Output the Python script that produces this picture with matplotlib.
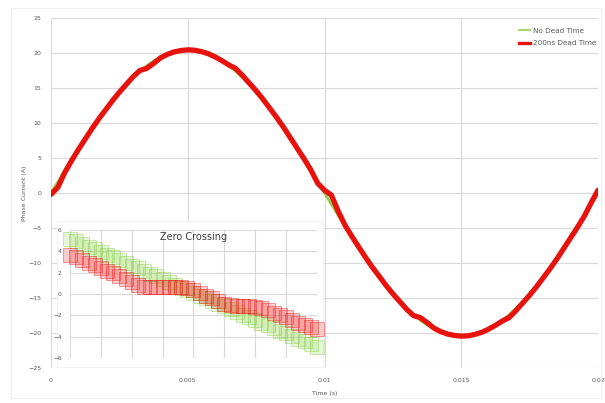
import matplotlib
matplotlib.use("Agg")
import matplotlib.pyplot as plt
from matplotlib.patches import Rectangle
from matplotlib.lines import Line2D

# ---------------- data ----------------
time_s = [0.00000, 0.00025, 0.00050, 0.00075, 0.00100, 0.00125, 0.00150, 0.00175, 0.00200, 0.00225,
          0.00250, 0.00275, 0.00300, 0.00325, 0.00350, 0.00375, 0.00400, 0.00425, 0.00450, 0.00475,
          0.00500, 0.00525, 0.00550, 0.00575, 0.00600, 0.00625, 0.00650, 0.00675, 0.00700, 0.00725,
          0.00750, 0.00775, 0.00800, 0.00825, 0.00850, 0.00875, 0.00900, 0.00925, 0.00950, 0.00975,
          0.01000, 0.01025, 0.01050, 0.01075, 0.01100, 0.01125, 0.01150, 0.01175, 0.01200, 0.01225,
          0.01250, 0.01275, 0.01300, 0.01325, 0.01350, 0.01375, 0.01400, 0.01425, 0.01450, 0.01475,
          0.01500, 0.01525, 0.01550, 0.01575, 0.01600, 0.01625, 0.01650, 0.01675, 0.01700, 0.01725,
          0.01750, 0.01775, 0.01800, 0.01825, 0.01850, 0.01875, 0.01900, 0.01925, 0.01950, 0.01975,
          0.02000]
current_nodt = [0.0, 1.60, 3.19, 4.76, 6.30, 7.81, 9.26, 10.66, 11.99, 13.25,
                14.42, 15.51, 16.50, 17.39, 18.18, 18.85, 19.40, 19.84, 20.15, 20.34,
                20.40, 20.34, 20.15, 19.84, 19.40, 18.85, 18.18, 17.39, 16.50, 15.51,
                14.42, 13.25, 11.99, 10.66, 9.26, 7.81, 6.30, 4.76, 3.19, 1.60,
                0.0, -1.60, -3.19, -4.76, -6.30, -7.81, -9.26, -10.66, -11.99, -13.25,
                -14.42, -15.51, -16.50, -17.39, -18.18, -18.85, -19.40, -19.84, -20.15, -20.34,
                -20.40, -20.34, -20.15, -19.84, -19.40, -18.85, -18.18, -17.39, -16.50, -15.51,
                -14.42, -13.25, -11.99, -10.66, -9.26, -7.81, -6.30, -4.76, -3.19, -1.60,
                0.0]
current_dt = [-0.2, 0.8, 2.9, 4.6, 6.2, 7.7, 9.2, 10.6, 11.9, 13.2,
              14.4, 15.5, 16.6, 17.5, 17.8, 18.5, 19.3, 19.8, 20.15, 20.35,
              20.45, 20.4, 20.2, 19.9, 19.45, 18.9, 18.3, 17.8, 16.8, 15.7,
              14.6, 13.4, 12.1, 10.8, 9.4, 7.9, 6.4, 4.9, 3.3, 1.4,
              0.4, -0.3, -2.6, -4.6, -6.2, -7.7, -9.2, -10.6, -11.9, -13.2,
              -14.4, -15.5, -16.6, -17.5, -17.8, -18.5, -19.3, -19.8, -20.15, -20.35,
              -20.45, -20.4, -20.2, -19.9, -19.45, -18.9, -18.3, -17.8, -16.8, -15.7,
              -14.6, -13.4, -12.1, -10.8, -9.4, -7.9, -6.4, -4.9, -3.3, -1.4,
              0.4]

zoom_x = [0.0, 0.2, 0.4, 0.6, 0.8, 1.0, 1.2, 1.4, 1.6, 1.8, 2.0, 2.2, 2.4, 2.6, 2.8, 3.0,
          3.2, 3.4, 3.6, 3.8, 4.0, 4.2, 4.4, 4.6, 4.8, 5.0, 5.2, 5.4, 5.6, 5.8, 6.0, 6.2,
          6.4, 6.6, 6.8, 7.0, 7.2, 7.4, 7.6, 7.8, 8.0]
zoom_nodt = [5.2, 4.95, 4.7, 4.45, 4.2, 3.95, 3.7, 3.45, 3.15, 2.9, 2.65, 2.4, 2.15, 1.9, 1.65, 1.4,
             1.15, 0.85, 0.6, 0.35, 0.1, -0.15, -0.4, -0.65, -0.9, -1.15, -1.4, -1.65, -1.95, -2.2,
             -2.45, -2.7, -2.95, -3.2, -3.45, -3.7, -3.95, -4.2, -4.45, -4.7, -4.95]
zoom_dt = [3.7, 3.45, 3.2, 2.95, 2.7, 2.45, 2.2, 1.95, 1.7, 1.4, 1.1, 0.8, 0.7, 0.65, 0.65, 0.65,
           0.7, 0.7, 0.65, 0.55, 0.35, 0.1, -0.15, -0.4, -0.65, -0.9, -1.05, -1.1, -1.1, -1.15,
           -1.2, -1.3, -1.5, -1.75, -2.0, -2.2, -2.45, -2.7, -2.9, -3.1, -3.3]

x_ticks = [0, 0.005, 0.01, 0.015, 0.02]
x_ticklabels = ["0", "0.005", "0.01", "0.015", "0.02"]
y_ticks = [-25, -20, -15, -10, -5, 0, 5, 10, 15, 20, 25]
zoom_yticks = [-6, -4, -2, 0, 2, 4, 6]

series_names = ["No Dead Time", "200ns Dead Time"]

# ---------------- styling ----------------
W, H = 605, 403
GREEN = "#92D050"
RED = "#E8120C"
GRID = "#D9D9D9"
TXT = "#595959"

fig = plt.figure(figsize=(W / 100, H / 100), dpi=100)
fig.patch.set_facecolor("white")

def fx(px):
    return px / W

def fy(py):
    return 1 - py / H

# faint chart border
fig.patches.append(Rectangle((fx(11), fy(398)), fx(590), 390 / H, transform=fig.transFigure,
                             fill=False, edgecolor="#EFEFEF", linewidth=0.8, zorder=0))

ax = fig.add_axes([fx(51), fy(368), fx(598 - 51), (368 - 18) / H])
ax.set_xlim(0, 0.02)
ax.set_ylim(-25, 25)
ax.set_xticks(x_ticks)
ax.set_xticklabels(x_ticklabels)
ax.set_yticks(y_ticks)
ax.grid(True, color=GRID, linewidth=0.8)
ax.set_axisbelow(True)
for s in ax.spines.values():
    s.set_visible(False)
ax.tick_params(length=0, labelsize=4.5, labelcolor=TXT, pad=7)

ax.plot(time_s, current_nodt, color=GREEN, linewidth=2.0, zorder=2)
ax.plot(time_s, current_dt, color=RED, linewidth=3.8, zorder=3,
        solid_capstyle="round", solid_joinstyle="round")

ax.set_xlabel("Time (s)", fontsize=4.5, color=TXT, labelpad=6)
ax.set_ylabel("Phase Current (A)", fontsize=4.5, color=TXT, labelpad=1)

handles = [Line2D([], [], color=GREEN, linewidth=1.2),
           Line2D([], [], color=RED, linewidth=2.4)]
leg = ax.legend(handles, series_names, loc="upper right", bbox_to_anchor=(1.005, 0.985),
                frameon=False, fontsize=5.2, handlelength=1.6, handletextpad=0.4,
                labelspacing=0.9, borderaxespad=0.2)
for t in leg.get_texts():
    t.set_color(TXT)

# white panel behind inset
fig.patches.append(Rectangle((fx(57), fy(367)), fx(323 - 57), (367 - 221) / H,
                             transform=fig.transFigure, facecolor="white",
                             edgecolor="#F0F0F0", linewidth=0.6, zorder=1))

axi = fig.add_axes([fx(70), fy(358), fx(317 - 70), (358 - 230) / H], zorder=2)
axi.set_facecolor("white")
axi.set_xlim(0, 8)
axi.set_ylim(-6, 6)
axi.set_xticks(range(0, 9))
axi.set_xticklabels([])
axi.set_yticks(zoom_yticks)
axi.grid(True, color=GRID, linewidth=0.8)
axi.set_axisbelow(True)
for s in axi.spines.values():
    s.set_visible(False)
axi.tick_params(length=0, labelsize=4.2, labelcolor=TXT, pad=6)

axi.plot(zoom_x, zoom_nodt, linestyle="none", marker="s", markersize=10,
         markerfacecolor=(0.57, 0.84, 0.31, 0.22), markeredgecolor=(0.50, 0.80, 0.25, 0.40),
         markeredgewidth=0.7, zorder=3, clip_on=False)
axi.plot(zoom_x, zoom_dt, linestyle="none", marker="s", markersize=10,
         markerfacecolor=(0.97, 0.1, 0.1, 0.22), markeredgecolor=(0.92, 0.05, 0.05, 0.40),
         markeredgewidth=0.7, zorder=4, clip_on=False)

axi.text(0.5, 0.985, "Zero Crossing", transform=axi.transAxes, ha="center", va="top",
         fontsize=7, color="#404040", zorder=5)

fig.savefig("out.png", dpi=100, facecolor="white")
